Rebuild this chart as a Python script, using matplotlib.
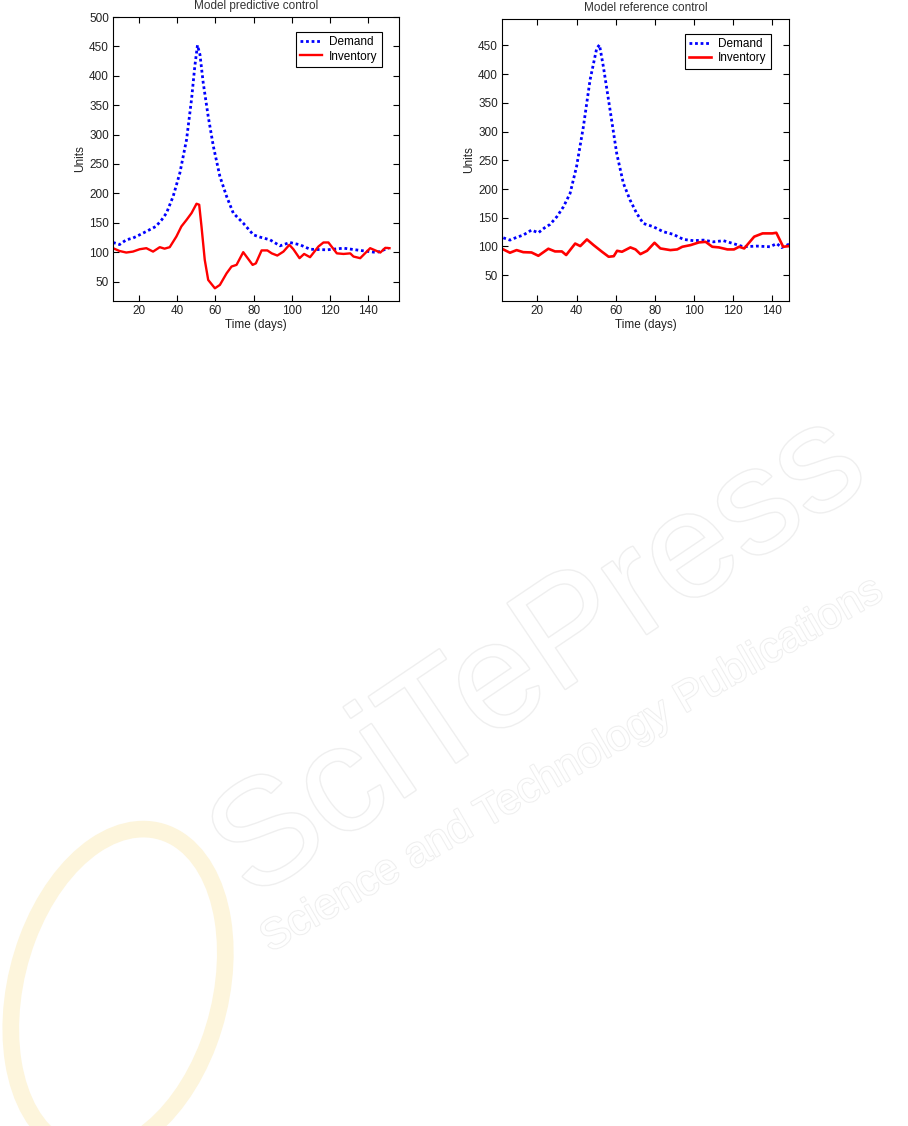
import numpy as np
import matplotlib
matplotlib.use("Agg")
import matplotlib.pyplot as plt
import matplotlib.patheffects as pe
from matplotlib.patches import Ellipse

plt.rcParams['font.family'] = ['Liberation Sans', 'DejaVu Sans']

# Model predictive control (left)
mpc_dem_t = [6.6, 10, 13.5, 17, 20.5, 25, 29, 32, 34.5, 38, 41.5, 45, 47.6, 49.3, 50.7,
             52, 53.7, 56.3, 59, 62.4, 65.9, 69.4, 74.6, 79.9, 83.4, 88.6, 93.8, 99,
             104.3, 109.5, 118.3, 127, 135.7, 144.4, 150.5]
mpc_dem = [116.5, 113, 121, 124, 129.5, 137, 143.8, 155, 166.5, 195, 234.7, 291.5, 360, 416, 452,
           436, 388, 331, 280, 229, 195, 166.5, 149.4, 129.5, 125.6, 121, 110.8, 116.5,
           112.5, 105, 104, 106.8, 103, 99.4, 107]

mpc_inv_t = [6.6, 10, 13.5, 17, 20.5, 24, 27.5, 31, 33.5, 36.2, 39.7, 42.3, 45, 47.6, 50.2,
             51.6, 52.8, 54.5, 56.3, 59.8, 62.4, 65.9, 68.5, 71.1, 74.6, 79.5, 81.2, 84.2,
             87.2, 89.5, 92.4, 95.6, 98.7, 100.8, 104, 106.4, 109.5, 113.9, 116.5, 119.1,
             123.5, 127, 130.5, 132.2, 135.7, 140.9, 146.2, 148.8, 151]
mpc_inv = [106.8, 102, 99.4, 101, 105, 106.8, 101, 108.5, 106, 108.5, 126.7, 143.8, 155, 166.5, 182.4,
           180.7, 143.8, 87, 52.8, 38.6, 44.3, 64, 75.6, 78.4, 100, 78.4, 81, 103,
           103, 98, 94.3, 101, 112.5, 105, 89.8, 97, 91.5, 109.7, 116.5, 116.5,
           98, 97, 98, 92.6, 89.8, 106.8, 99.4, 107.4, 106.8]

# Model reference control (right)
mrc_dem_t = [2.6, 6, 9.5, 12.8, 17, 20.5, 23.5, 26.5, 30, 33.3, 36.7, 40, 43.5, 46.9, 50.3, 51.7,
             53.7, 57.1, 60.5, 63.9, 67.3, 70.7, 74.1, 79.2, 84.3, 89.4, 94.6, 99.7,
             104.8, 109.9, 115, 120, 125.2, 132, 138.8, 142.2, 144.7, 148.5]
mrc_dem = [115, 111, 116, 119.8, 128.5, 123.8, 132, 138.4, 152, 169, 192.4, 239, 308.7, 390, 445, 451,
           413, 338, 262, 210, 181, 157.6, 140, 134.3, 125.6, 121, 112.2, 110,
           111, 108, 110, 105, 99.4, 100.6, 99.4, 105, 98, 104]

mrc_inv_t = [2.6, 6, 9.4, 12.8, 17, 20.5, 25.6, 29, 32.5, 34.7, 39.3, 41.9, 45.3, 48.7, 53,
             56.4, 59, 60.7, 63.2, 67.5, 70.1, 72.6, 76, 79.8, 82.8, 87.9, 91.4, 94,
             98.2, 102.5, 105.9, 109.3, 112.7, 117, 120.4, 123, 125.6, 130.7, 135, 140,
             142, 145.5, 148.5]
mrc_inv = [94.8, 89, 93.6, 90, 89.5, 83.7, 96, 91.3, 91.3, 85, 105, 100.6, 112.2, 102.3, 90.7,
           82, 83, 92.4, 90.7, 98.3, 94.8, 86.6, 92.4, 106.4, 96.5, 93.6, 94.8, 99.4,
           102.3, 107, 108, 99.4, 98.3, 94.8, 94.8, 99.4, 96.5, 117, 122.7, 122.7,
           123.8, 99.4, 100.6]

fig = plt.figure(figsize=(9.08, 11.26), dpi=100)

# faint publisher watermark
fig.text(0.595, 0.415, "SciTePress", fontsize=108, rotation=34, ha='center', va='center',
         color='white', path_effects=[pe.withStroke(linewidth=2, foreground='#efefef')])
fig.text(0.63, 0.32, "Science and Technology Publications", fontsize=31, rotation=30,
         ha='center', va='center', color='white',
         path_effects=[pe.withStroke(linewidth=1.5, foreground='#efefef')])
fig.patches.append(Ellipse((0.13, 0.12), 0.22, 0.30, angle=-25, transform=fig.transFigure,
                           facecolor='none', edgecolor='#fdf5dc', linewidth=12))


def panel(rect, title, dt, d, it, inv, xlim, ylim, yticks, leg_xy, inv_lw):
    ax = fig.add_axes(rect)
    ax.plot(dt, d, color='blue', linestyle=(0, (1, 1)), linewidth=2, label='Demand')
    ax.plot(it, inv, color='red', linewidth=inv_lw, label='Inventory')
    ax.set_xlim(*xlim)
    ax.set_ylim(*ylim)
    ax.set_xticks(range(20, 141, 20))
    ax.set_yticks(yticks)
    ax.tick_params(direction='in', top=True, right=True, length=4, labelsize=8.5,
                   labelcolor='#222222', pad=3)
    ax.set_title(title, fontsize=8.5, color='#333333', pad=6)
    ax.set_xlabel('Time (days)', fontsize=8.5, color='#222222', labelpad=1)
    ax.set_ylabel('Units', fontsize=8.5, color='#222222', labelpad=2)
    leg = ax.legend(loc='upper right', bbox_to_anchor=leg_xy, fontsize=8.5, fancybox=False,
                    edgecolor='black', framealpha=1, borderaxespad=0, handlelength=1.9,
                    handletextpad=0.6, borderpad=0.35, labelspacing=0.2)
    leg.get_frame().set_linewidth(0.8)
    return ax


panel([0.1245, 0.7327, 0.315, 0.2522], 'Model predictive control',
      mpc_dem_t, mpc_dem, mpc_inv_t, mpc_inv, (6.6, 156), (17, 500),
      range(50, 501, 50), (0.94, 0.947), 1.7)
panel([0.553, 0.7327, 0.316, 0.2504], 'Model reference control',
      mrc_dem_t, mrc_dem, mrc_inv_t, mrc_inv, (2, 148.5), (5, 496),
      range(50, 451, 50), (0.937, 0.947), 1.9)

fig.savefig('out.png', dpi=100)
